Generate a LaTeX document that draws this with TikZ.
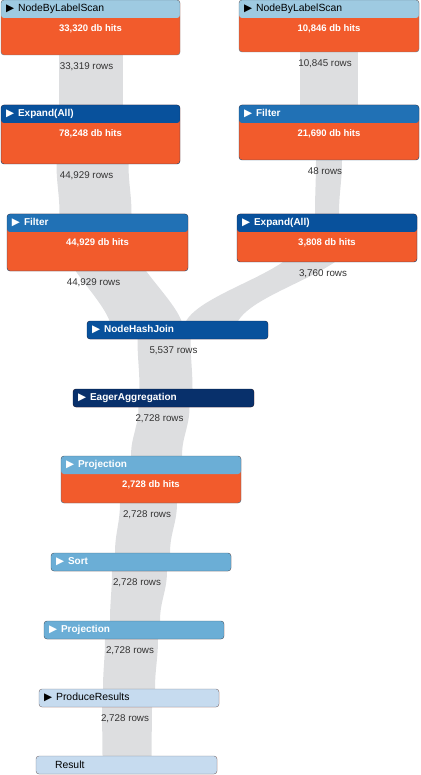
\documentclass[tikz,border=0pt]{standalone}
\usepackage{fontspec}
\setmainfont{Liberation Sans}
\newfontfamily\symfont{DejaVu Sans}
\usetikzlibrary{positioning, backgrounds}

\definecolor{hitorange}{HTML}{F25B2C}
\definecolor{band}{HTML}{DDDEE0}
\definecolor{blueA}{HTML}{C6DBEF}
\definecolor{blueB}{HTML}{9ECAE1}
\definecolor{blueC}{HTML}{6BAED6}
\definecolor{blueD}{HTML}{2171B5}
\definecolor{blueE}{HTML}{08519C}
\definecolor{blueF}{HTML}{08306B}
\definecolor{rowgray}{HTML}{333333}

\begin{document}
\begin{tikzpicture}[
            x=1pt, y=-1pt,
            op/.style={
                draw=#1!60!black,
                fill=hitorange,
                rounded corners=3pt,
                minimum width=180pt,
                inner sep=0pt,
                path picture={\fill[#1] (path picture bounding box.north west) rectangle ([yshift=-18pt]path picture bounding box.north east);}
            },
            flow/.style={fill=band},
            title/.style={anchor=west, inner sep=0pt, text=white, font=\fontsize{10}{12}\selectfont\bfseries},
            plain title/.style={anchor=west, inner sep=0pt, text=black, font=\fontsize{10.4}{12}\selectfont},
            dbhits/.style={inner sep=0pt, text=white, font=\fontsize{9.5}{11}\selectfont\bfseries},
            rows/.style={inner sep=0pt, text=rowgray, font=\fontsize{9.8}{11}\selectfont, below=7pt of #1, xshift=-4pt}
        ]
            \useasboundingbox (0,0) rectangle (420,775);

            % operators
            \node[op=blueB, minimum width=179pt, minimum height=55pt] (scanL) at (90.5,27.5) {};
            \node[op=blueB, minimum height=52pt] (scanR) at (329,26) {};
            \node[op=blueE, minimum width=179pt, minimum height=59pt] (expandL) at (90.5,134.5) {};
            \node[op=blueD, minimum height=55pt] (filterR) at (329,132.5) {};
            \node[op=blueD, minimum width=181pt, minimum height=57pt] (filterL) at (97.5,242.5) {};
            \node[op=blueE, minimum height=48pt] (expandR) at (327,238) {};
            \node[op=blueE, minimum width=181pt, minimum height=18pt] (join) at (177.5,330) {};
            \node[op=blueF, minimum width=181pt, minimum height=18pt] (eager) at (163.5,398) {};
            \node[op=blueC, minimum height=47pt] (proj1) at (151,479.5) {};
            \node[op=blueC, minimum height=18pt] (sort) at (141,562) {};
            \node[op=blueC, minimum height=18pt] (proj2) at (134,630) {};
            \node[op=blueA, minimum height=18pt] (produce) at (129,698) {};
            \node[op=blueA, minimum width=181pt, minimum height=18pt] (result) at (126.5,765) {};

            % titles
            \node[plain title] (scanLt) at ([xshift=5pt,yshift=-9pt]scanL.north west) {{\symfont\fontsize{10.5}{10}\selectfont ▶}\hspace{4pt}NodeByLabelScan};
            \node[plain title] (scanRt) at ([xshift=5pt,yshift=-9pt]scanR.north west) {{\symfont\fontsize{10.5}{10}\selectfont ▶}\hspace{4pt}NodeByLabelScan};
            \node[title] (expandLt) at ([xshift=5pt,yshift=-9pt]expandL.north west) {{\symfont\fontsize{10.5}{10}\selectfont ▶}\hspace{4pt}Expand(All)};
            \node[title] (filterRt) at ([xshift=5pt,yshift=-9pt]filterR.north west) {{\symfont\fontsize{10.5}{10}\selectfont ▶}\hspace{4pt}Filter};
            \node[title] (filterLt) at ([xshift=5pt,yshift=-9pt]filterL.north west) {{\symfont\fontsize{10.5}{10}\selectfont ▶}\hspace{4pt}Filter};
            \node[title] (expandRt) at ([xshift=5pt,yshift=-9pt]expandR.north west) {{\symfont\fontsize{10.5}{10}\selectfont ▶}\hspace{4pt}Expand(All)};
            \node[title] (joint) at ([xshift=5pt,yshift=-9pt]join.north west) {{\symfont\fontsize{10.5}{10}\selectfont ▶}\hspace{4pt}NodeHashJoin};
            \node[title] (eagert) at ([xshift=5pt,yshift=-9pt]eager.north west) {{\symfont\fontsize{10.5}{10}\selectfont ▶}\hspace{4pt}EagerAggregation};
            \node[title] (proj1t) at ([xshift=5pt,yshift=-9pt]proj1.north west) {{\symfont\fontsize{10.5}{10}\selectfont ▶}\hspace{4pt}Projection};
            \node[title] (sortt) at ([xshift=5pt,yshift=-9pt]sort.north west) {{\symfont\fontsize{10.5}{10}\selectfont ▶}\hspace{4pt}Sort};
            \node[title] (proj2t) at ([xshift=5pt,yshift=-9pt]proj2.north west) {{\symfont\fontsize{10.5}{10}\selectfont ▶}\hspace{4pt}Projection};
            \node[plain title] (producet) at ([xshift=5pt,yshift=-9pt]produce.north west) {{\symfont\fontsize{10.5}{10}\selectfont ▶}\hspace{4pt}ProduceResults};
            \node[plain title] (resultt) at ([xshift=19pt,yshift=-9pt]result.north west) {Result};

            % db hits
            \node[dbhits] (scanLh) at ([yshift=-29pt]scanL.north) {33,320 db hits};
            \node[dbhits] (scanRh) at ([yshift=-29pt]scanR.north) {10,846 db hits};
            \node[dbhits] (expandLh) at ([yshift=-29pt]expandL.north) {78,248 db hits};
            \node[dbhits] (filterRh) at ([yshift=-29pt]filterR.north) {21,690 db hits};
            \node[dbhits] (filterLh) at ([yshift=-29pt]filterL.north) {44,929 db hits};
            \node[dbhits] (expandRh) at ([yshift=-29pt]expandR.north) {3,808 db hits};
            \node[dbhits] (proj1h) at ([yshift=-29pt]proj1.north) {2,728 db hits};

            % rows
            \node[rows=scanL] (scanLr) {33,319 rows};
            \node[rows=scanR] (scanRr) {10,845 rows};
            \node[rows=expandL] (expandLr) {44,929 rows};
            \node[rows=filterR] (filterRr) {48 rows};
            \node[rows=filterL] (filterLr) {44,929 rows};
            \node[rows=expandR] (expandRr) {3,760 rows};
            \node[rows=join] (joinr) {5,537 rows};
            \node[rows=eager] (eagerr) {2,728 rows};
            \node[rows=proj1] (proj1r) {2,728 rows};
            \node[rows=sort] (sortr) {2,728 rows};
            \node[rows=proj2] (proj2r) {2,728 rows};
            \node[rows=produce] (producer) {2,728 rows};

            % row flows, behind the operators
            \begin{scope}[on background layer]
            \fill[flow] ([xshift=-32pt]scanL.south) -- ([xshift=-32pt]expandL.north) -- ([xshift=32pt]expandL.north) -- ([xshift=32pt]scanL.south) -- cycle;
            \fill[flow] ([xshift=-29pt]scanR.south) -- ([xshift=-29pt]filterR.north) -- ([xshift=29pt]filterR.north) -- ([xshift=29pt]scanR.south) -- cycle;
            \fill[flow] ([xshift=-34pt]expandL.south) to[out=-90, in=90] ([xshift=-38pt]filterL.north) -- ([xshift=34pt]filterL.north) to[out=90, in=-90] ([xshift=38pt]expandL.south) -- cycle;
            \fill[flow] ([xshift=-13pt]filterR.south) to[out=-90, in=90] ([xshift=-12pt]expandR.north) -- ([xshift=12pt]expandR.north) to[out=90, in=-90] ([xshift=13pt]filterR.south) -- cycle;
            \fill[flow, looseness=0.6] ([xshift=-35pt]filterL.center) to[out=-90, in=90] ([xshift=-66pt]join.center) -- ([xshift=6pt]join.center) to[out=90, in=-90] ([xshift=35pt]filterL.center) -- cycle;
            \fill[flow, looseness=0.6] ([xshift=-26pt]expandR.center) to[out=-90, in=90] ([xshift=6pt]join.center) -- ([xshift=58pt]join.center) to[out=90, in=-90] ([xshift=26pt]expandR.center) -- cycle;
            \fill[flow] ([xshift=-40pt]join.south) to[out=-90, in=90] ([xshift=-24pt]eager.north) -- ([xshift=29pt]eager.north) to[out=90, in=-90] ([xshift=13pt]join.south) -- cycle;
            \fill[flow] ([xshift=-25pt]eager.south) to[out=-90, in=90] ([xshift=-20pt]proj1.north) -- ([xshift=31pt]proj1.north) to[out=90, in=-90] ([xshift=26pt]eager.south) -- cycle;
            \fill[flow] ([xshift=-31pt]proj1.south) to[out=-90, in=90] ([xshift=-26pt]sort.north) -- ([xshift=29pt]sort.north) to[out=90, in=-90] ([xshift=26pt]proj1.south) -- cycle;
            \fill[flow] ([xshift=-29pt]sort.south) to[out=-90, in=90] ([xshift=-24pt]proj2.north) -- ([xshift=26pt]proj2.north) to[out=90, in=-90] ([xshift=26pt]sort.south) -- cycle;
            \fill[flow] ([xshift=-29pt]proj2.south) to[out=-90, in=90] ([xshift=-26pt]produce.north) -- ([xshift=26pt]produce.north) to[out=90, in=-90] ([xshift=24pt]proj2.south) -- cycle;
            \fill[flow] ([xshift=-27pt]produce.south) to[out=-90, in=90] ([xshift=-24pt]result.north) -- ([xshift=25pt]result.north) to[out=90, in=-90] ([xshift=23pt]produce.south) -- cycle;
            \end{scope}
        \end{tikzpicture}
\end{document}
